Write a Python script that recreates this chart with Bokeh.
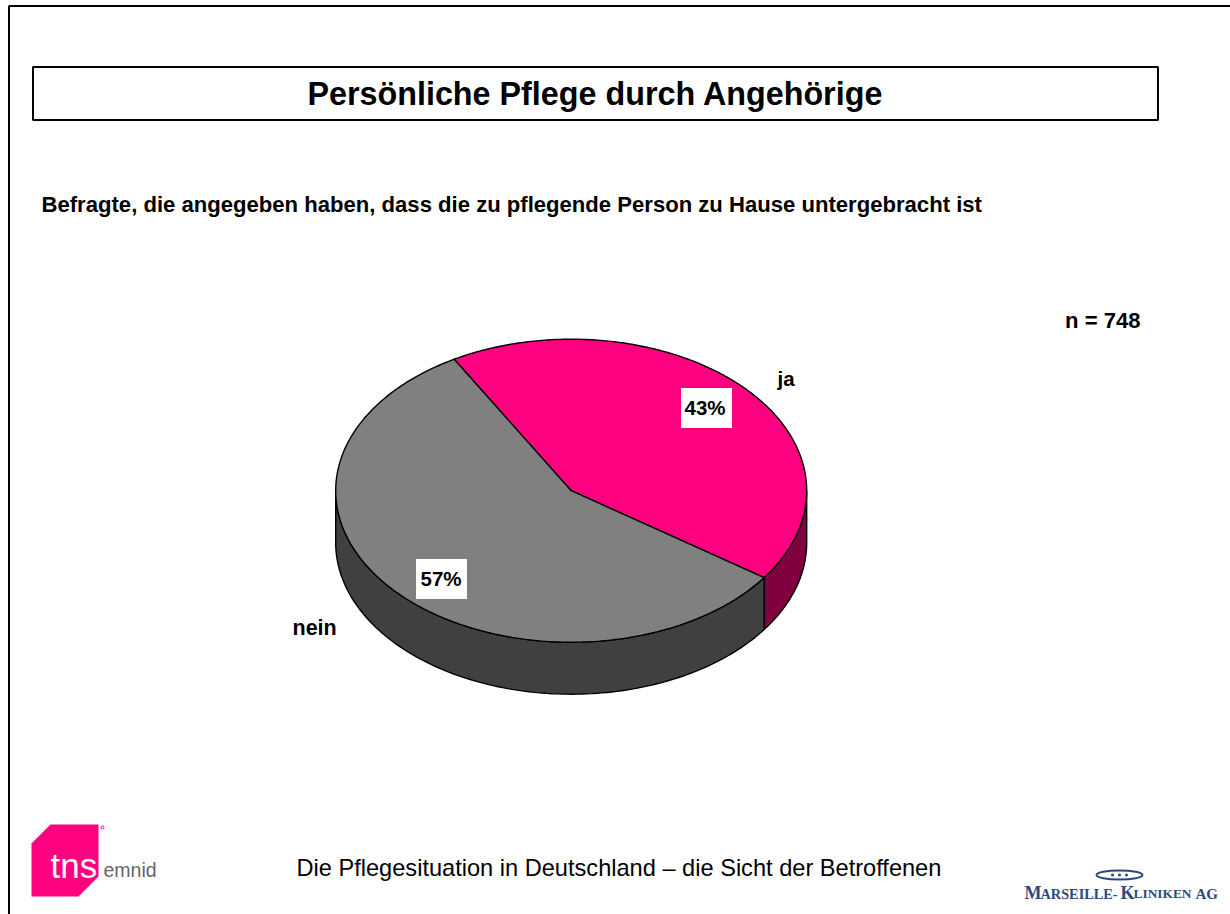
import numpy as np
from bokeh.plotting import figure
from bokeh.embed import file_html
from bokeh.resources import INLINE
from bokeh.core.properties import value

# ---- data ----
categories = ["ja", "nein"]
shares = [43, 57]
share_labels = ["43%", "57%"]
title = "Persönliche Pflege durch Angehörige"
subtitle = "Befragte, die angegeben haben, dass die zu pflegende Person zu Hause untergebracht ist"
sample = "n = 748"
footer = "Die Pflegesituation in Deutschland – die Sicht der Betroffenen"

# ---- styles / layout ----
TOP_COL = ["#ff0080", "#808080"]
WALL_COL = ["#800040", "#404040"]
CX, CY, RX, RY, DEPTH = 570.7, 490.2, 235.5, 151.5, 52
START = -29.8  # degrees clockwise from top (projected parameter)
W, H = 1230, 914
BOLD = value("Liberation Sans")

p = figure(width=W, height=H, x_range=(0, W), y_range=(H, 0),
           output_backend="svg", toolbar_location=None, min_border=0,
           margin=(0, 0, 0, 0), outline_line_color=None)
p.axis.visible = False
p.grid.visible = False
p.background_fill_color = "#ffffff"
p.border_fill_color = "#ffffff"


def ell(t_deg, dy=0.0):
    t = np.radians(np.asarray(t_deg, dtype=float))
    return CX + RX * np.sin(t), CY - RY * np.cos(t) + dy


def txt(x, y, s, size, bold=True, color="#000000", align="left", font=BOLD):
    p.text([x], [y], text=[s], text_font=font, text_font_size=f"{size}px",
           text_font_style="bold" if bold else "normal", text_color=color,
           text_align=align, text_baseline="middle")


# page frame
p.line([8.5, 8.5, W], [H, 5.5, 5.5], line_color="#000000", line_width=2)

# title box
p.quad(left=[32.5], right=[1157.5], top=[66.5], bottom=[119.5], fill_color="#ffffff",
       line_color="#000000", line_width=2)
txt(595, 93, title, 32.3, align="center")
txt(41, 203.5, subtitle, 22.1)
txt(1064.5, 320, sample, 22.1)

# pie: walls first, then top slices
bounds = START + np.cumsum([0] + shares) * 3.6
for i in range(len(shares)):
    a0, a1 = bounds[i], bounds[i + 1]
    # visible part of the wall: the front half of the ellipse (90..270 deg)
    v0, v1 = max(a0, 90), min(a1, 270)
    if v1 > v0:
        t = np.linspace(v0, v1, 120)
        xt, yt = ell(t)
        xb, yb = ell(t[::-1], DEPTH)
        p.patch(np.r_[xt, xb], np.r_[yt, yb], fill_color=WALL_COL[i],
                line_color="#000000", line_width=1.4)
for i in range(len(shares)):
    t = np.linspace(bounds[i], bounds[i + 1], 240)
    xt, yt = ell(t)
    p.patch(np.r_[CX, xt], np.r_[CY, yt], fill_color=TOP_COL[i],
            line_color="#000000", line_width=1.4)

# value labels with white boxes
box_pos = [(706, 407.5), (441, 578.5)]
text_dx = [-1.5, -0.5]
for (bx, by), lab, dx in zip(box_pos, share_labels, text_dx):
    p.quad(left=[bx - 25.5], right=[bx + 25.5], top=[by - 20], bottom=[by + 20],
           fill_color="#ffffff", line_color=None)
    txt(bx + dx, by - 0.5, lab, 20.5, align="center")

# category labels
txt(777, 378, categories[0], 20.5)
txt(292, 627, categories[1], 21.5)

# footer
txt(296, 867, footer, 23.6, bold=False)

# tns emnid logo
p.patch([50, 98, 98, 78, 31, 31], [824, 824, 876, 896, 896, 843],
        fill_color="#ff0080", line_color=None)
txt(50, 865, "tns", 35, color="#ffffff", bold=False)
p.circle([102], [827], radius=1.5, fill_color="#ffffff", line_color="#ff0080", line_width=1)
txt(103, 869, "emnid", 19.5, color="#666666", bold=False)

# Marseille-Kliniken logo
NAVY = "#2a4a7a"
SERIF = value("Liberation Serif")
p.ellipse([1119], [874.5], width=46, height=9, fill_color="#ffffff",
          line_color=NAVY, line_width=2)
p.scatter([1112, 1119, 1126], [874.5] * 3, size=3, fill_color=NAVY, line_color=None)
txt(1024, 892, "M", 18, color=NAVY, font=SERIF)
txt(1040, 893, "ARSEILLE-", 14.3, color=NAVY, font=SERIF)
txt(1120, 892, "K", 18, color=NAVY, font=SERIF)
txt(1133, 893, "LINIKEN", 13.4, color=NAVY, font=SERIF)
txt(1195, 893, "AG", 15, color=NAVY, font=SERIF)

open("out.html", "w").write(file_html(p, INLINE))
